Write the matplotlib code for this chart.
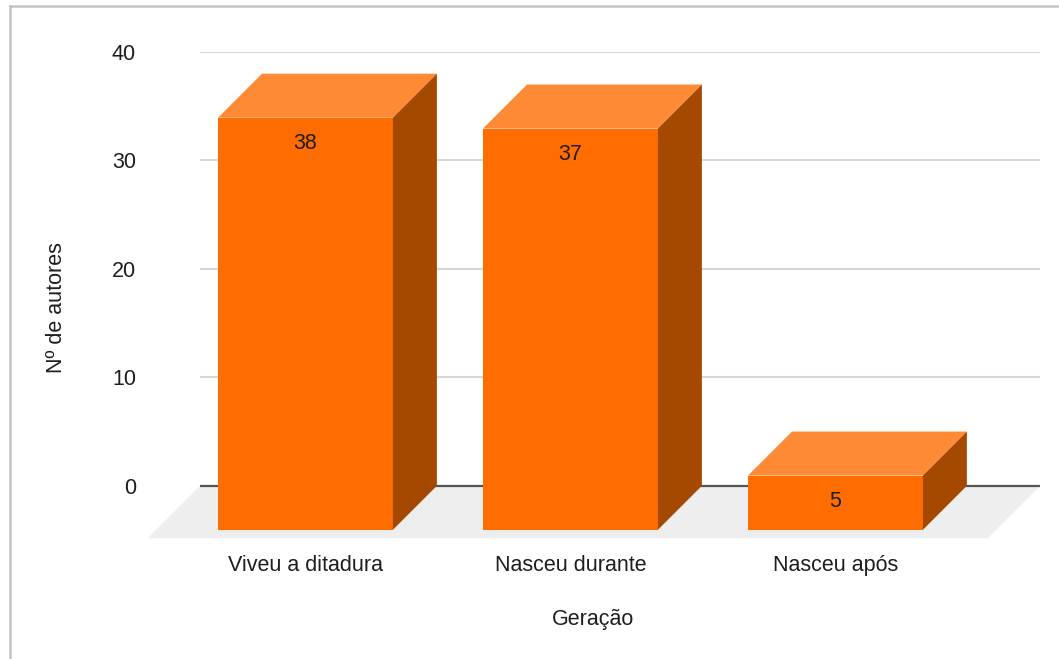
import matplotlib
matplotlib.use("Agg")
import matplotlib.pyplot as plt
from matplotlib.patches import Polygon
from matplotlib.lines import Line2D

# ---- data ----
categories = ["Viveu a ditadura", "Nasceu durante", "Nasceu após"]
values = [38, 37, 5]
yticks = [0, 10, 20, 30, 40]
xlabel = "Geração"
ylabel = "Nº de autores"

# ---- style ----
plt.rcParams['font.family'] = ['Liberation Sans', 'DejaVu Sans']
FS = 15.5
TXT = '#1e1e1e'
FRONT = '#FF6D00'
TOP = '#FF8A36'
SIDE = '#A54900'
FLOOR = '#EEEEEE'

W, H = 1059, 659
fig = plt.figure(figsize=(W / 100, H / 100), dpi=100)

def fx(px):
    return px / W

def fy(py):
    return 1 - py / H

ax = fig.add_axes([fx(200), fy(540), (1040 - 200) / W, (540 - 52) / H])
ax.set_xlim(-0.398, 2.772)
ax.set_ylim(-5, 40)

BW = 0.66      # bar width (category units)
DX = 0.166     # depth offset x (category units)
DY = 4.06      # depth offset y (value units)
FDX = 0.198    # floor depth x
FDY = 4.84     # floor depth y

for s in ax.spines.values():
    s.set_visible(False)

# gridlines on back wall
ax.set_yticks(yticks)
ax.set_yticklabels([str(t) for t in yticks], fontsize=FS, color=TXT)
ax.tick_params(axis='y', length=0, pad=46)
for t in yticks:
    if t == 0:
        continue
    ax.axhline(t, color='#d6d6d6', lw=1.5, zorder=1)

# floor
x0, x1 = ax.get_xlim()
floor = Polygon([(x0, 0), (x1, 0), (x1 - FDX, -FDY), (x0 - FDX, -FDY)],
                closed=True, facecolor=FLOOR, edgecolor='none', zorder=2, clip_on=False)
ax.add_patch(floor)
ax.axhline(0, color='#555555', lw=1.6, zorder=3)

# bars
xs = list(range(len(categories)))
ax.bar(xs, values, bottom=-DY, width=BW, color=FRONT, edgecolor='none', zorder=5)
for x, v in zip(xs, values):
    l, r = x - BW / 2, x + BW / 2
    top = Polygon([(l, v - DY), (r, v - DY), (r + DX, v), (l + DX, v)],
                  closed=True, facecolor=TOP, edgecolor='none', zorder=5)
    side = Polygon([(r, -DY), (r + DX, 0), (r + DX, v), (r, v - DY)],
                   closed=True, facecolor=SIDE, edgecolor='none', zorder=5)
    ax.add_patch(top)
    ax.add_patch(side)
    ax.text(x, v - DY - 2.35, str(v), ha='center', va='center',
            fontsize=FS, color=TXT, zorder=6)

ax.set_xticks(xs)
ax.set_xticklabels(categories, fontsize=FS, color=TXT)
ax.tick_params(axis='x', length=0, pad=11)

fig.text(fx(593), fy(620), xlabel, ha='center', va='center', fontsize=FS, color=TXT)
fig.text(fx(57), fy(308), ylabel, ha='center', va='center', rotation=90,
         fontsize=FS, color=TXT)

# outer border (top and left)
fig.add_artist(Line2D([fx(10), 1], [fy(6), fy(6)], color='#c4c4c4', lw=1.8))
fig.add_artist(Line2D([fx(10), fx(10)], [fy(6), 0], color='#c4c4c4', lw=1.8))

fig.savefig('out.png', dpi=100)
